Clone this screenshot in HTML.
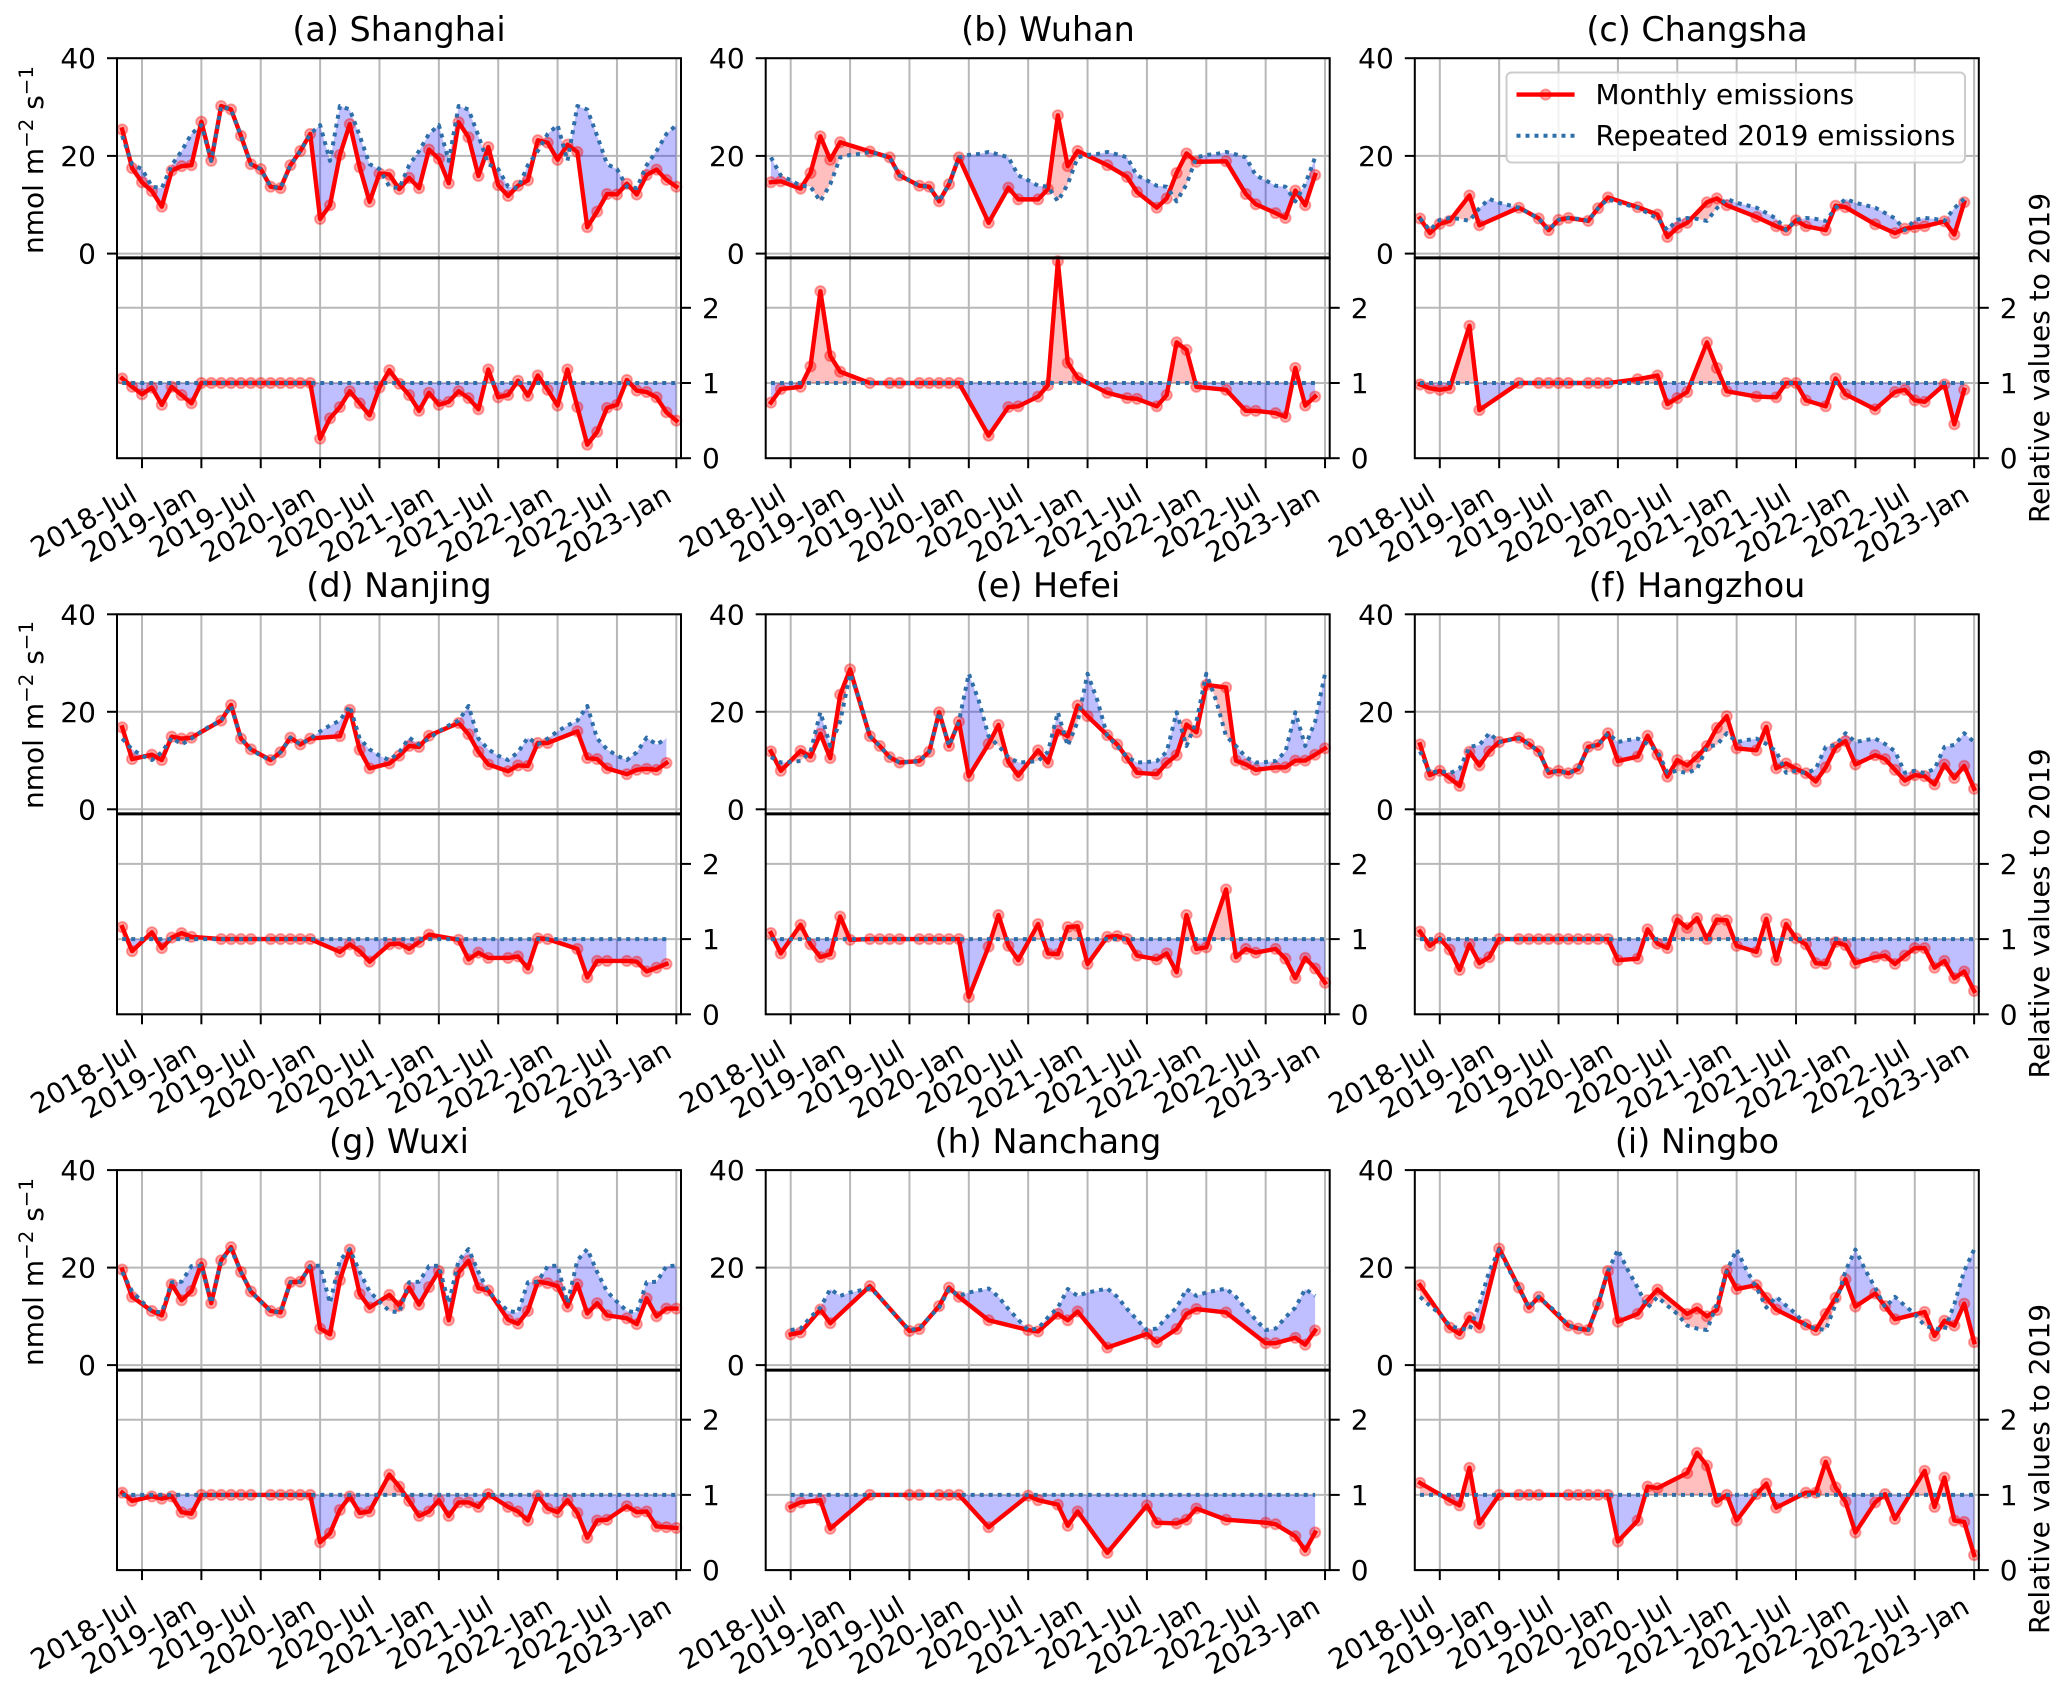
<!DOCTYPE html>
<html lang="en">
<head>
<meta charset="utf-8">
<title>Monthly emissions relative to 2019 for nine cities</title>
<style>
html,body{margin:0;padding:0;background:#fff;}
svg{display:block;}
text{font-family:"DejaVu Sans","Liberation Sans",sans-serif;fill:#000;}
</style>
</head>
<body>
<svg id="figure" xmlns="http://www.w3.org/2000/svg" width="2067" height="1688" viewBox="0 0 2067 1688">
  <rect x="0" y="0" width="2067" height="1688" fill="#ffffff"/>
  <g id="panels"></g>

  <g font-size="33.4" text-anchor="middle">
    <text x="399" y="41">(a) Shanghai</text>
    <text x="1048" y="41">(b) Wuhan</text>
    <text x="1697" y="41">(c) Changsha</text>
    <text x="399" y="597">(d) Nanjing</text>
    <text x="1048" y="597">(e) Hefei</text>
    <text x="1697" y="597">(f) Hangzhou</text>
    <text x="399" y="1153">(g) Wuxi</text>
    <text x="1048" y="1153">(h) Nanchang</text>
    <text x="1697" y="1153">(i) Ningbo</text>
  </g>

  <g font-size="28" text-anchor="middle">
    <text transform="translate(43,160) rotate(-90)">nmol m<tspan font-size="19.8" dy="-10">−2</tspan><tspan dy="10"> s</tspan><tspan font-size="19.8" dy="-10">−1</tspan></text>
    <text transform="translate(43,715) rotate(-90)">nmol m<tspan font-size="19.8" dy="-10">−2</tspan><tspan dy="10"> s</tspan><tspan font-size="19.8" dy="-10">−1</tspan></text>
    <text transform="translate(43,1272) rotate(-90)">nmol m<tspan font-size="19.8" dy="-10">−2</tspan><tspan dy="10"> s</tspan><tspan font-size="19.8" dy="-10">−1</tspan></text>
  </g>

  <g font-size="28" text-anchor="middle">
    <text transform="translate(2049,358) rotate(-90)">Relative values to 2019</text>
    <text transform="translate(2049,913.5) rotate(-90)">Relative values to 2019</text>
    <text transform="translate(2049,1469) rotate(-90)">Relative values to 2019</text>
  </g>

  <g>
    <rect x="1506.5" y="72.5" width="458.5" height="90" rx="5" ry="5" fill="#ffffff" fill-opacity="0.8" stroke="#cccccc" stroke-width="2"/>
    <g>
      <line x1="1516.5" y1="94.6" x2="1574.6" y2="94.6" stroke="#ff0000" stroke-width="4.4"/>
      <circle cx="1545.6" cy="94.6" r="5.2" fill="#ff0000" fill-opacity="0.35" stroke="#ff0000" stroke-opacity="0.35" stroke-width="1.8"/>
      <text x="1595.5" y="104" font-size="27.9">Monthly emissions</text>
    </g>
    <g>
      <line x1="1516.5" y1="135.7" x2="1574.6" y2="135.7" stroke="#2f6fa9" stroke-width="4" stroke-dasharray="4 5"/>
      <text x="1595.5" y="145" font-size="27.9">Repeated 2019 emissions</text>
    </g>
  </g>
</svg>

<script>
// Shared axis ticks. Month index 0 is 2018-May, 56 is 2023-Jan.
const xTickMonths = [2, 8, 14, 20, 26, 32, 38, 44, 50, 56];
const xTickLabels = ['2018-Jul','2019-Jan','2019-Jul','2020-Jan','2020-Jul','2021-Jan','2021-Jul','2022-Jan','2022-Jul','2023-Jan'];
const upperYTicks = [0, 20, 40];
const lowerYTicks = [0, 1, 2];

// (a) Shanghai
const shanghaiMonths = [0,1,2,3,4,5,6,7,8,9,10,11,12,13,14,15,16,17,18,19,20,21,22,23,24,25,26,27,28,29,30,31,32,33,34,35,36,37,38,39,40,41,42,43,44,45,46,47,48,49,50,51,52,53,54,55,56];
const shanghaiEmissions = [25.4,17.5,14.6,12.8,9.6,17.0,17.9,18.1,27.0,19.0,30.2,29.5,24.1,18.3,17.3,13.7,13.4,18.1,21.0,24.5,7.1,9.9,20.2,26.5,17.7,10.6,16.4,16.2,13.2,15.5,13.4,21.3,19.4,14.4,26.9,23.8,15.9,21.8,14.0,11.8,13.9,15.0,23.2,22.7,19.2,22.3,20.8,5.4,8.6,12.2,12.1,14.3,12.1,16.1,17.2,15.1,13.7];
const shanghaiRatio = [1.06,.95,.85,.94,.71,.95,.84,.73,1,1,1,1,1,1,1,1,1,1,1,1,.26,.53,.68,.89,.73,.57,.94,1.17,.99,.84,.63,.87,.71,.75,.89,.80,.65,1.18,.81,.84,1.03,.83,1.10,.91,.70,1.18,.68,.18,.35,.67,.71,1.04,.90,.88,.81,.61,.50];
const shanghai2019 = [26.3,19.0,30.2,29.5,24.1,18.3,17.3,13.7,13.4,18.1,21.0,24.5];

// (b) Wuhan
const wuhanMonths = [0,1,3,4,5,6,7,10,12,13,15,16,17,18,19,22,24,25,27,28,29,30,31,34,36,37,39,40,41,42,43,46,48,49,51,52,53,54,55];
const wuhanEmissions = [14.6,14.8,13.3,16.5,24.0,19.2,22.8,20.9,19.7,16,13.9,13.7,10.7,14.2,19.7,6.3,13.5,11.1,11.1,13.2,28.3,17.9,21.0,18.1,15.7,12.6,9.4,11.3,16.5,20.5,18.8,18.9,12.2,10.1,8.3,7.3,12.9,9.9,16.1];
const wuhanRatio = [.74,.92,.95,1.22,2.22,1.36,1.15,1,1,1,1,1,1,1,1,.30,.68,.69,.82,.97,2.62,1.27,1.07,.87,.80,.79,.69,.84,1.54,1.44,.95,.91,.63,.63,.60,.55,1.20,.70,.82];
const wuhan2019 = [20.2,20.4,20.8,20.3,19.7,16.0,15.0,13.9,13.7,10.7,14.2,19.7];

// (c) Changsha
const changshaMonths = [0,1,2,3,5,6,10,12,13,14,15,17,18,19,22,24,25,26,27,29,30,31,34,36,37,38,39,41,42,43,46,48,49,50,51,53,54,55];
const changshaEmissions = [7.2,4.2,6.1,6.7,11.9,5.8,9.4,7.2,4.8,6.9,7.3,6.7,9.3,11.5,9.5,8.0,3.4,5.3,6.3,10.5,11.3,9.9,7.5,5.6,4.8,6.8,5.6,4.8,9.8,9.5,6.0,4.2,5.1,5.4,5.6,6.6,3.9,10.5];
const changshaRatio = [.98,.93,.91,.93,1.76,.64,1,1,1,1,1,1,1,1,1.05,1.10,.72,.80,.88,1.54,1.20,.89,.82,.81,1.0,1.0,.77,.69,1.06,.85,.65,.88,.91,.77,.75,.98,.45,.91];
const changsha2019 = [10.4,9.9,9.4,8.3,7.2,4.8,6.9,7.3,7.1,6.7,9.3,11.2];

// (d) Nanjing
const nanjingMonths = [0,1,3,4,5,6,7,10,11,12,13,15,16,17,18,19,22,23,24,25,27,28,29,30,31,34,35,36,37,39,40,41,42,43,46,47,48,49,51,52,53,54,55];
const nanjingEmissions = [16.8,10.3,11.2,10.1,14.9,14.5,14.7,18.2,21.4,14.5,12.3,10.1,11.7,14.7,13.3,14.5,15.0,20.4,12.2,8.4,9.4,11.0,13.0,12.8,15.1,17.7,15.4,11.8,9.2,7.8,9.0,8.9,13.6,13.6,16.0,10.5,10.3,8.4,7.2,8.1,8.3,8.1,9.5];
const nanjingRatio = [1.16,.84,1.09,.88,1.02,1.08,1.03,1,1,1,1,1,1,1,1,1,.83,.93,.84,.70,.93,.94,.87,.96,1.06,.99,.73,.82,.75,.75,.77,.61,1.01,1.0,.87,.49,.71,.71,.71,.70,.57,.62,.67];
const nanjing2019 = [16.0,17.2,18.2,21.2,14.5,12.3,11.0,10.1,11.7,14.7,13.3,14.5];

// (e) Hefei
const hefeiMonths = [0,1,3,4,5,6,7,8,10,11,12,13,15,16,17,18,19,20,22,23,24,25,27,28,29,30,31,32,34,35,36,37,39,40,41,42,43,44,46,47,48,49,51,52,53,54,55,56];
const hefeiEmissions = [11.9,7.9,12.0,10.8,15.5,10.5,23.5,28.7,15.0,13.0,10.7,9.6,9.9,11.8,19.9,13.0,18.0,6.8,13.4,17.3,9.7,6.9,12.1,9.6,16.1,15.0,21.3,19.1,15.2,13.3,10.5,7.5,7.2,9.5,11.1,17.4,15.8,25.5,25.0,10.0,9.2,8.1,8.6,8.6,10,10,11.2,12.5];
const hefeiRatio = [1.08,.81,1.19,.93,.76,.80,1.30,.99,1,1,1,1,1,1,1,1,1,.23,.90,1.32,.91,.72,1.20,.81,.80,1.16,1.17,.67,1.03,1.04,1.0,.78,.73,.81,.56,1.32,.87,.89,1.66,.76,.87,.82,.87,.74,.48,.75,.61,.42];
const hefei2019 = [27.8,22.3,15.0,13.0,10.7,9.6,9.7,9.9,11.8,19.9,13.0,18.0];

// (f) Hangzhou
const hangzhouMonths = [0,1,2,3,4,5,6,7,8,10,11,12,13,14,15,16,17,18,19,20,22,23,24,25,26,27,28,29,30,31,32,34,35,36,37,38,39,40,41,42,43,44,46,47,48,49,50,51,52,53,54,55,56];
const hangzhouEmissions = [13.3,7.0,7.9,6.4,4.8,11.8,9.0,11.9,13.8,14.7,13.4,11.9,7.5,7.9,7.4,8.3,12.8,13.2,15.6,9.9,10.8,15.1,11.2,6.7,10.1,9.0,10.8,13,16.7,19.1,12.5,12.1,16.9,8.4,9.4,8.3,7.4,5.7,8.6,12.7,14.0,9.2,11.1,10.3,8.1,5.9,7.0,6.8,5.1,9.2,6.4,8.9,4.2];
const hangzhouRatio = [1.10,.91,1.01,.86,.59,.93,.68,.76,1.0,1,1,1,1,1,1,1,1,1,1,.72,.74,1.13,.94,.88,1.26,1.15,1.28,1.0,1.26,1.25,.91,.83,1.27,.72,1.20,1.01,.93,.68,.67,.96,.92,.68,.76,.78,.67,.78,.88,.88,.62,.71,.48,.57,.31];
const hangzhou2019 = [13.8,14.2,14.5,13.4,11.9,7.5,7.9,7.4,8.3,12.8,13.2,15.6];

// (g) Wuxi
const wuxiMonths = [0,1,3,4,5,6,7,8,9,10,11,12,13,15,16,17,18,19,20,21,22,23,24,25,27,28,29,30,31,32,33,34,35,36,37,39,40,41,42,43,44,45,46,47,48,49,51,52,53,54,55,56];
const wuxiEmissions = [19.6,14.0,11.1,10.2,16.6,13.3,15.2,20.8,12.7,21.5,24.2,19.1,15.1,11.1,10.8,17.0,17.1,20.3,7.5,6.3,17.4,23.7,14.6,11.8,14.4,12.2,15.9,12.4,16.0,19.3,9.2,19.0,21.4,15.8,15.3,9.3,8.5,11.1,17.1,16.8,16.2,12.0,16.6,10.6,12.7,10.2,9.6,8.4,13.7,10.0,11.6,11.6];
const wuxiRatio = [1.03,.92,.98,.95,.98,.77,.75,1,1,1,1,1,1,1,1,1,1,1,.37,.49,.80,.98,.76,.78,1.27,1.11,.92,.72,.78,.93,.72,.90,.90,.84,1.01,.84,.78,.66,.99,.82,.77,.93,.76,.43,.66,.67,.85,.77,.78,.58,.57,.56];
const wuxi2019 = [20.4,12.7,21.5,23.8,19.1,15.1,13.0,11.1,10.8,17.0,17.1,20.3];

// (h) Nanchang
const nanchangMonths = [2,3,5,6,10,14,15,17,18,19,22,26,27,29,30,31,34,38,39,41,42,43,46,50,51,53,54,55];
const nanchangEmissions = [6.3,6.7,11.4,8.6,16.2,7.0,7.4,12.1,15.9,14.0,9.2,7.2,6.9,10.5,9.2,11.0,3.6,6.4,4.7,7.4,10.5,11.5,10.8,4.5,4.5,5.6,4.2,7.1];
const nanchangRatio = [.84,.90,.93,.55,1,1,1,1,1,1,.57,.99,.93,.87,.59,.78,.23,.86,.63,.62,.67,.82,.67,.63,.61,.45,.26,.50];
const nanchang2019 = [14.9,15.3,15.7,14.0,11.5,9.3,7.2,7.5,9.8,11.8,15.6,14.2];

// (i) Ningbo
const ningboMonths = [0,3,4,5,6,8,10,11,12,15,16,17,18,19,20,22,23,24,27,28,29,30,31,32,34,35,36,39,40,41,42,43,44,46,47,48,51,52,53,54,55,56];
const ningboEmissions = [16.4,7.7,6.4,9.8,7.7,23.9,15.9,11.8,14.0,8.1,7.5,7.2,12.5,19.3,8.9,10.5,13.3,15.5,10.5,11.6,10.0,11.3,19.4,15.6,16.4,13.8,11.4,8.3,7.2,10.5,13.8,17.6,12.0,14.7,12.1,9.4,10.9,6.0,9.1,8.1,12.6,4.7];
const ningboRatio = [1.16,.93,.86,1.36,.62,1,1,1,1,1,1,1,1,1,.38,.66,1.11,1.09,1.29,1.56,1.39,.91,1.0,.66,1.01,1.15,.83,1.03,1.03,1.44,1.10,.91,.50,.90,1.01,.68,1.32,.84,1.23,.66,.64,.20];
const ningbo2019 = [23.7,19.5,15.9,11.8,14.0,12.2,10.5,8.1,7.5,7.2,12.5,19.3];

const cities = [
  {slug:'shanghai', col:0, row:0, months:shanghaiMonths, emissions:shanghaiEmissions, ratio:shanghaiRatio, cycle:shanghai2019},
  {slug:'wuhan',    col:1, row:0, months:wuhanMonths,    emissions:wuhanEmissions,    ratio:wuhanRatio,    cycle:wuhan2019},
  {slug:'changsha', col:2, row:0, months:changshaMonths, emissions:changshaEmissions, ratio:changshaRatio, cycle:changsha2019},
  {slug:'nanjing',  col:0, row:1, months:nanjingMonths,  emissions:nanjingEmissions,  ratio:nanjingRatio,  cycle:nanjing2019},
  {slug:'hefei',    col:1, row:1, months:hefeiMonths,    emissions:hefeiEmissions,    ratio:hefeiRatio,    cycle:hefei2019},
  {slug:'hangzhou', col:2, row:1, months:hangzhouMonths, emissions:hangzhouEmissions, ratio:hangzhouRatio, cycle:hangzhou2019},
  {slug:'wuxi',     col:0, row:2, months:wuxiMonths,     emissions:wuxiEmissions,     ratio:wuxiRatio,     cycle:wuxi2019},
  {slug:'nanchang', col:1, row:2, months:nanchangMonths, emissions:nanchangEmissions, ratio:nanchangRatio, cycle:nanchang2019},
  {slug:'ningbo',   col:2, row:2, months:ningboMonths,   emissions:ningboEmissions,   ratio:ningboRatio,   cycle:ningbo2019}
];

// Layout of the axes frames (not data).
const colLeft = [117, 765.7, 1414.8];
const axisWidth = 564;
const rowGeom = [
  {top:58.2,  zero:253.6,  div:257.9,  bottom:458.2},
  {top:614.3, zero:809.3,  div:813.9,  bottom:1014.3},
  {top:1170.1,zero:1365.1, div:1370.1, bottom:1570.1}
];
const lowerUnit = 75.2;
const monthStep = 9.895;
const firstTickOffset = 25;

const SVG_NS = 'http://www.w3.org/2000/svg';
function make(tag, attrs, parent) {
  const node = document.createElementNS(SVG_NS, tag);
  for (const k in attrs) node.setAttribute(k, attrs[k]);
  parent.appendChild(node);
  return node;
}
function fmt(n) { return n.toFixed(2); }

function interpAt(months, values, m) {
  for (let i = 0; i < months.length - 1; i++) {
    if (m >= months[i] && m <= months[i + 1]) {
      const t = (m - months[i]) / (months[i + 1] - months[i]);
      return values[i] + t * (values[i + 1] - values[i]);
    }
  }
  return values[values.length - 1];
}

// Builds the two fill paths between a series and a reference.
function betweenPaths(first, last, seriesAt, refAt, sx, sy) {
  let above = '', below = '';
  const quad = (a, b) => {
    const pts = [[a[0], a[1]], [b[0], b[1]], [b[0], b[2]], [a[0], a[2]]];
    return 'M' + pts.map(p => fmt(sx(p[0])) + ' ' + fmt(sy(p[1]))).join('L') + 'Z';
  };
  for (let m = first; m < last; m++) {
    const a = [m, seriesAt(m), refAt(m)];
    const b = [m + 1, seriesAt(m + 1), refAt(m + 1)];
    const d0 = a[1] - a[2], d1 = b[1] - b[2];
    if (d0 >= 0 && d1 >= 0) above += quad(a, b);
    else if (d0 <= 0 && d1 <= 0) below += quad(a, b);
    else {
      const t = d0 / (d0 - d1);
      const cv = a[1] + t * (b[1] - a[1]);
      const c = [m + t, cv, cv];
      if (d0 > 0) { above += quad(a, c); below += quad(c, b); }
      else { below += quad(a, c); above += quad(c, b); }
    }
  }
  return {above, below};
}

function drawSeriesLayer(parent, layerName, months, values, first, last, refAt, sx, sy) {
  const paths = betweenPaths(first, last, m => interpAt(months, values, m), refAt, sx, sy);

  const fillBelow = make('path', {d: paths.below, fill: '#0000ff', 'fill-opacity': 0.25, stroke: 'none'}, parent);
  
  

  const fillAbove = make('path', {d: paths.above, fill: '#ff0000', 'fill-opacity': 0.25, stroke: 'none'}, parent);
  
  

  months.forEach((m, i) => {
    const dot = make('circle', {cx: fmt(sx(m)), cy: fmt(sy(values[i])), r: 5.2, fill: '#ff0000', 'fill-opacity': 0.35, stroke: '#ff0000', 'stroke-opacity': 0.35, 'stroke-width': 1.8}, parent);
    
    
  });

  const redPts = months.map((m, i) => fmt(sx(m)) + ',' + fmt(sy(values[i]))).join(' ');
  const redLine = make('polyline', {points: redPts, fill: 'none', stroke: '#ff0000', 'stroke-width': 4.4, 'stroke-linejoin': 'round', 'stroke-linecap': 'square'}, parent);
  
  

  const bluePts = [];
  for (let m = first; m <= last; m++) bluePts.push(fmt(sx(m)) + ',' + fmt(sy(refAt(m))));
  const blueLine = make('polyline', {points: bluePts.join(' '), fill: 'none', stroke: '#2f6fa9', 'stroke-width': 4, 'stroke-dasharray': '4 5', 'stroke-linejoin': 'round'}, parent);
  
  
}

function drawPanel(city) {
  const root = document.getElementById('panels');
  const left = colLeft[city.col], right = left + axisWidth;
  const g = rowGeom[city.row];
  const sx = m => left + firstTickOffset + (m - 2) * monthStep;
  const syUpper = v => g.zero - v * (g.zero - g.top) / 40;
  const syLower = v => g.bottom - v * lowerUnit;
  const first = city.months[0];
  const last = city.months[city.months.length - 1];

  const panel = make('g', {}, root);
  
  

  const gridLayer = make('g', {stroke: '#b8b8b8', 'stroke-width': 2}, panel);
  
  

  xTickMonths.forEach(m => {
    const gl = make('line', {x1: fmt(sx(m)), x2: fmt(sx(m)), y1: g.top, y2: g.bottom}, gridLayer);
    
    
  });
  upperYTicks.forEach(v => {
    const gl = make('line', {x1: left, x2: right, y1: fmt(syUpper(v)), y2: fmt(syUpper(v))}, gridLayer);
    
    
  });
  lowerYTicks.forEach(v => {
    const gl = make('line', {x1: left, x2: right, y1: fmt(syLower(v)), y2: fmt(syLower(v))}, gridLayer);
    
    
  });

  const upper = make('g', {}, panel);
  
  
  drawSeriesLayer(upper, 'monthly-emissions', city.months, city.emissions, first, last,
    m => city.cycle[(m + 4) % 12], sx, syUpper);

  const lower = make('g', {}, panel);
  
  
  drawSeriesLayer(lower, 'relative-emissions', city.months, city.ratio, first, last,
    () => 1, sx, syLower);

  const frameTop = make('rect', {x: left, y: g.top, width: axisWidth, height: g.div - g.top, fill: 'none', stroke: '#000', 'stroke-width': 2}, panel);
  
  

  const frameBottom = make('rect', {x: left, y: g.div, width: axisWidth, height: g.bottom - g.div, fill: 'none', stroke: '#000', 'stroke-width': 2}, panel);
  
  

  const divider = make('line', {x1: left, x2: right, y1: g.div, y2: g.div, stroke: '#000', 'stroke-width': 3}, panel);
  
  

  upperYTicks.forEach(v => {
    const y = syUpper(v);
    const tick = make('line', {x1: left - 10, x2: left, y1: fmt(y), y2: fmt(y), stroke: '#000', 'stroke-width': 2}, panel);
    
    
    const label = make('text', {x: left - 21, y: fmt(y + 10), 'text-anchor': 'end', 'font-size': 28}, panel);
    label.textContent = String(v);
    
    
  });

  lowerYTicks.forEach(v => {
    const y = syLower(v);
    const tick = make('line', {x1: right, x2: right + 10, y1: fmt(y), y2: fmt(y), stroke: '#000', 'stroke-width': 2}, panel);
    
    
    const label = make('text', {x: right + 21, y: fmt(y + 10), 'text-anchor': 'start', 'font-size': 28}, panel);
    label.textContent = String(v);
    
    
  });

  xTickMonths.forEach((m, i) => {
    const x = sx(m);
    const tick = make('line', {x1: fmt(x), x2: fmt(x), y1: g.bottom, y2: g.bottom + 10, stroke: '#000', 'stroke-width': 2}, panel);
    
    
    const label = make('text', {'text-anchor': 'end', 'font-size': 28, transform: 'translate(' + fmt(x - 3) + ',' + fmt(g.bottom + 42) + ') rotate(-30)'}, panel);
    label.textContent = xTickLabels[i];
    
    
  });
}

cities.forEach(drawPanel);
</script>
</body>
</html>
